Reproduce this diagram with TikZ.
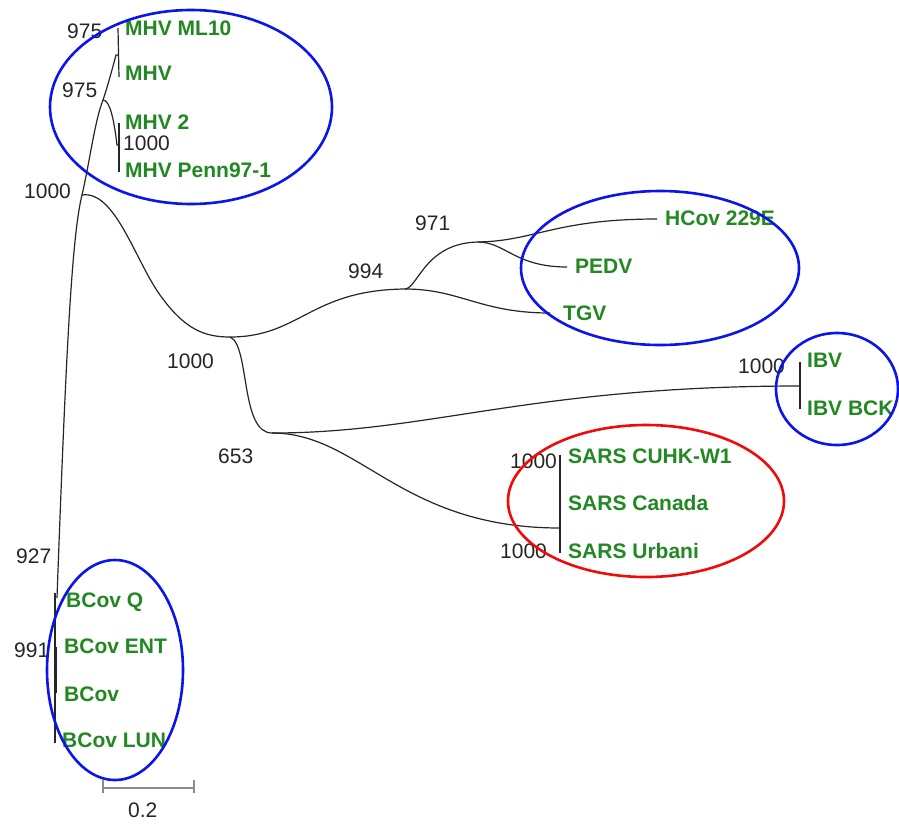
\documentclass[tikz,border=0pt]{standalone}
\usepackage{fontspec}
\setmainfont{Liberation Sans}
\begin{document}
\begin{tikzpicture}[x=1pt,y=-1pt,
  branch/.style={draw=black!85,line width=1.2pt},
  scalebar/.style={draw=black!45,line width=1.2pt},
  taxon/.style={anchor=base west,inner sep=0pt,text=leafgreen,font=\fontsize{21}{25}\selectfont\bfseries},
  boot/.style={anchor=base west,inner sep=0pt,text=black!85,font=\fontsize{21}{25}\selectfont},
  clade/.style={draw=cladeblue,line width=2.6pt},
  sarsclade/.style={draw=cladered,line width=2.6pt}]
\definecolor{leafgreen}{RGB}{34,136,34}
\definecolor{cladeblue}{RGB}{10,20,235}
\definecolor{cladered}{RGB}{240,10,10}
\useasboundingbox (0,0) rectangle (899,828);
\fill[white] (0,0) rectangle (899,828);

% internal nodes of the tree
\coordinate (root) at (82,195);
\coordinate (mhvA) at (103,100);
\coordinate (mhvB) at (116,55);
\coordinate (mhvC) at (117,145);
\coordinate (bcovN) at (57,598);
\coordinate (n1) at (230,337);
\coordinate (n994) at (405,289);
\coordinate (n971) at (478,242);
\coordinate (n653) at (272,433);
\coordinate (ibvN) at (800,386);
\coordinate (sarsN) at (560,528);

% tips and bar ends
\coordinate (ml10) at (118,28);
\coordinate (mhvtip) at (119,77);
\coordinate (mhv2) at (119,123);
\coordinate (penn) at (119,172);
\coordinate (mhvBbar) at (118,55);
\coordinate (mhvCbar) at (119,145);
\coordinate (hcovT) at (657,219);
\coordinate (pedvT) at (567,267);
\coordinate (tgvT) at (550,313);
\coordinate (ibvTop) at (800,362);
\coordinate (ibvBot) at (800,409);
\coordinate (sarsTop) at (560,455);
\coordinate (sarsBot) at (560,553);
\coordinate (bcovTop) at (55,593);
\coordinate (bcovBot) at (55,743);
\coordinate (bcovThA) at (56,647);
\coordinate (bcovThB) at (56,693);

% branches
\draw[branch] (root) .. controls (90,160) and (95,120) .. (mhvA);
\draw[branch] (mhvA) .. controls (108,85) and (112,70) .. (mhvB) -- (mhvBbar);
\draw[branch] (mhvA) .. controls (110,100) and (114,120) .. (mhvC) -- (mhvCbar);
\draw[branch] (ml10) -- (mhvtip);
\draw[branch] (mhv2) -- (penn);
\draw[branch] (root) .. controls (72,235) and (66,350) .. (bcovN);
\draw[branch] (bcovTop) -- (bcovBot);
\draw[branch,line width=2.2pt] (bcovThA) -- (bcovThB);
\draw[branch] (root) .. controls (115,190) and (135,260) .. (160,295)
  .. controls (185,330) and (205,337) .. (n1);
\draw[branch] (n1) .. controls (300,337) and (310,290) .. (n994);
\draw[branch] (n994) .. controls (418,288) and (425,243) .. (n971);
\draw[branch] (n971) .. controls (535,241) and (555,219) .. (hcovT);
\draw[branch] (n971) .. controls (505,242) and (515,267) .. (pedvT);
\draw[branch] (n994) .. controls (460,289) and (480,313) .. (tgvT);
\draw[branch] (n1) .. controls (250,345) and (240,433) .. (n653);
\draw[branch] (n653) .. controls (430,433) and (530,386) .. (ibvN);
\draw[branch] (ibvTop) -- (ibvBot);
\draw[branch] (n653) .. controls (360,433) and (400,528) .. (sarsN);
\draw[branch] (sarsTop) -- (sarsBot);

% scale bar
\coordinate (sbL) at (103,788);
\coordinate (sbR) at (194,788);
\draw[scalebar] (sbL) -- (sbR);
\draw[scalebar] ([yshift=-5pt]sbL) -- ([yshift=8pt]sbL);
\draw[scalebar] ([yshift=-5pt]sbR) -- ([yshift=8pt]sbR);
\node[boot] (sblab) at (128,817) {0.2};

% bootstrap values
\node[boot] (b975a) at (67,38) {975};
\node[boot] (b975b) at (62,97) {975};
\node[boot] (b1000m) at (123,150) {1000};
\node[boot] (b1000r) at (24,198) {1000};
\node[boot] (b971) at (415,230) {971};
\node[boot] (b994) at (348,278) {994};
\node[boot] (b1000n) at (167,368) {1000};
\node[boot] (b653) at (218,463) {653};
\node[boot] (b1000i) at (738,373) {1000};
\node[boot] (b1000s) at (510,468) {1000};
\node[boot] (b1000u) at (500,558) {1000};
\node[boot] (b927) at (16,563) {927};
\node[boot] (b991) at (14,657) {991};

% taxa
\node[taxon] (tML10) at (125,35) {MHV ML10};
\node[taxon] (tMHV) at (125,80) {MHV};
\node[taxon] (tMHV2) at (125,129) {MHV 2};
\node[taxon] (tPenn) at (125,177) {MHV Penn97-1};
\node[taxon] (tHCov) at (665,225) {HCov 229E};
\node[taxon] (tPEDV) at (575,273) {PEDV};
\node[taxon] (tTGV) at (563,320) {TGV};
\node[taxon] (tIBV) at (807,367) {IBV};
\node[taxon] (tIBVB) at (807,415) {IBV BCK};
\node[taxon] (tSC) at (568,463) {SARS CUHK-W1};
\node[taxon] (tSCa) at (568,510) {SARS Canada};
\node[taxon] (tSU) at (568,558) {SARS Urbani};
\node[taxon] (tBQ) at (66,607) {BCov Q};
\node[taxon] (tBE) at (64,653) {BCov ENT};
\node[taxon] (tB) at (64,701) {BCov};
\node[taxon] (tBL) at (62,747) {BCov LUN};

% clade outlines
\draw[clade] (191,107) ellipse [x radius=141, y radius=97];
\draw[clade] (660,268) ellipse [x radius=139, y radius=77];
\draw[clade] (837,389) ellipse [x radius=61, y radius=56];
\draw[sarsclade] (646,501) ellipse [x radius=138, y radius=76];
\draw[clade] (115,670) ellipse [x radius=68, y radius=110];
\end{tikzpicture}
\end{document}
